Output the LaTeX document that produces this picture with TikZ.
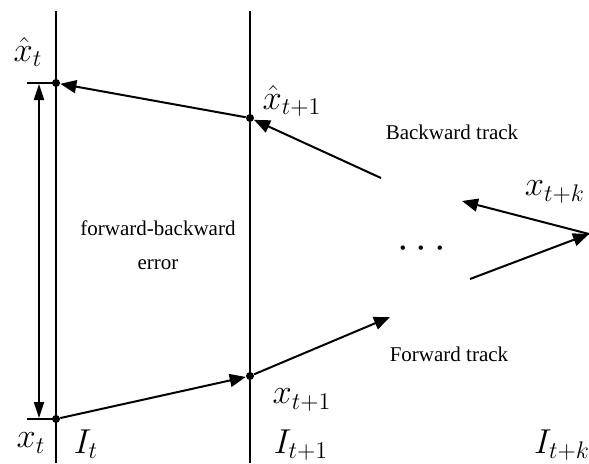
\documentclass[tikz,border=0pt]{standalone}
\usepackage{fontspec}
\setmainfont{Liberation Serif}
\usepackage{amsmath}
\usetikzlibrary{arrows.meta}

\begin{document}
\begin{tikzpicture}[
    x=0.5pt, y=-0.5pt,
    frame/.style={line width=1pt},
    tick/.style={line width=0.7pt},
    arrow/.style={-{Triangle[length=8pt,width=6.5pt]}, line width=1pt},
    gap/.style={{Triangle[length=8pt,width=5pt]}-{Triangle[length=8pt,width=5pt]}, line width=1pt},
    dot/.style={circle, fill, inner sep=0pt, minimum size=4pt},
    lab/.style={inner sep=0pt, font=\LARGE},
    txt/.style={inner sep=0pt, align=center, font=\fontsize{10.5}{17}\selectfont},
]
\useasboundingbox (0,0) rectangle (589,463);

\coordinate (ittop) at (56,11);
\coordinate (itbot) at (56,463);
\coordinate (it1top) at (250,11);
\coordinate (it1bot) at (250,463);
\draw[frame] (ittop) -- (itbot);
\draw[frame] (it1top) -- (it1bot);

\node[dot] (xhatt) at (56,83) {};
\node[dot] (xt) at (56,419) {};
\node[dot] (xhatt1) at (250,118) {};
\node[dot] (xt1) at (250,376) {};
\coordinate (xtk) at (589,234);

\coordinate (bwfree) at (381,178);
\coordinate (fwfree) at (390,317);
\coordinate (bwtip) at (462,201);
\coordinate (fwstart) at (470,279);

\coordinate (tickhat) at (27,83);
\coordinate (tickx) at (27,419);
\coordinate (errtop) at (39,84);
\coordinate (errbot) at (39,418);

\draw[tick] (tickhat) -- (xhatt.center);
\draw[tick] (tickx) -- (xt.center);
\draw[gap] (errtop) -- (errbot);

\draw[arrow] (xhatt1) -- (xhatt);
\draw[arrow] (bwfree) -- (xhatt1);
\draw[arrow] (xtk) -- (bwtip);
\draw[arrow] (xt) -- (xt1);
\draw[arrow] (xt1) -- (fwfree);
\draw[arrow] (fwstart) -- (xtk);

\node[lab] (lxhatt) at (28,52) {$\hat{x}_t$};
\node[lab] (lxt) at (31,443) {$x_t$};
\node[lab] (lIt) at (86,444) {$I_t$};
\node[lab] (lxhatt1) at (292,101) {$\hat{x}_{t+1}$};
\node[lab] (lxt1) at (302,400) {$x_{t+1}$};
\node[lab] (lIt1) at (301,445) {$I_{t+1}$};
\node[lab] (lxtk) at (555,192) {$x_{t+k}$};
\node[lab] (lItk) at (562,445) {$I_{t+k}$};
\node[inner sep=0pt, font=\huge] (dots) at (425,249) {$\cdots$};

\node[txt] (bwtrack) at (452,132) {Backward track};
\node[txt] (fwtrack) at (449,354) {Forward track};
\node[txt] (fberr) at (158,245) {forward-backward\\error};

\end{tikzpicture}
\end{document}
